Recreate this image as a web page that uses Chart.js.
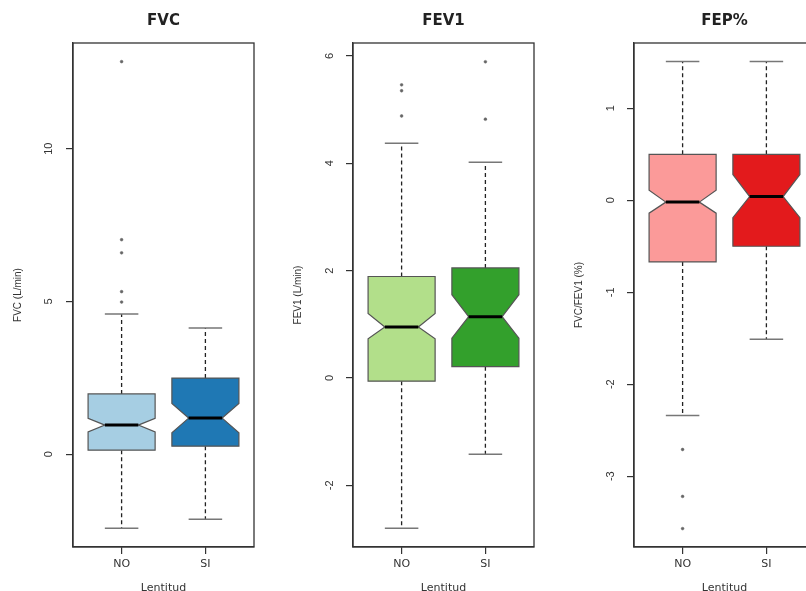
<!DOCTYPE html>
<html lang="es">
<head>
<meta charset="UTF-8">
<title>Lentitud - boxplots</title>
<style>
  html, body { margin: 0; padding: 0; background: #fff; overflow: hidden; }
  body { width: 806px; height: 591px; position: relative; }
  .panel { position: absolute; top: 0; width: 280px; height: 600px; }
</style>
<script src="https://cdn.jsdelivr.net/npm/chart.js"></script>
</head>
<body>
<div class="panel" style="left:0px"><canvas id="fvc" width="280" height="600"></canvas></div>
<div class="panel" style="left:280px"><canvas id="fev1" width="280" height="600"></canvas></div>
<div class="panel" style="left:561px"><canvas id="fep" width="280" height="600"></canvas></div>
<script>
// categorias (eje x)
const categorias = ['NO', 'SI'];

// cada caja: [bigote inf, Q1, muesca inf, mediana, muesca sup, Q3, bigote sup]
const fvcNO = [-2.43, 0.13, 0.73, 0.95, 1.17, 1.97, 4.59];
const fvcSI = [-2.13, 0.26, 0.70, 1.18, 1.66, 2.49, 4.13];
const fvcAtipNO = [12.85, 7.02, 6.59, 5.32, 4.98];
const fvcAtipSI = [];

const fev1NO = [-2.80, -0.06, 0.73, 0.95, 1.20, 1.89, 4.37];
const fev1SI = [-1.42, 0.21, 0.74, 1.14, 1.55, 2.05, 4.02];
const fev1AtipNO = [5.46, 5.35, 4.88];
const fev1AtipSI = [5.89, 4.82];

const fepNO = [-2.34, -0.67, -0.14, -0.02, 0.11, 0.50, 1.51];
const fepSI = [-1.51, -0.50, -0.19, 0.04, 0.28, 0.50, 1.51];
const fepAtipNO = [-2.71, -3.22, -3.57];
const fepAtipSI = [];

const FONT = "'Liberation Sans', Arial, sans-serif";
const FONT_ANCHA = "'DejaVu Sans', sans-serif";

// dibuja las cajas con muesca al estilo de R
const cajasPlugin = {
  id: 'cajas',
  beforeDatasetsDraw(chart, args, opts) {
    const ctx = chart.ctx;
    const x = chart.scales.x, y = chart.scales.y;
    opts.cajas.forEach((b, i) => {
      const [lo, q1, nlo, med, nhi, q3, hi] = b;
      const c = i + 1;
      const xc = x.getPixelForValue(c);
      const xl = x.getPixelForValue(c - 0.4), xr = x.getPixelForValue(c + 0.4);
      const nl = x.getPixelForValue(c - 0.2), nr = x.getPixelForValue(c + 0.2);
      ctx.save();
      // bigotes
      ctx.strokeStyle = '#222';
      ctx.lineWidth = 1.3;
      ctx.setLineDash([4, 3]);
      ctx.beginPath();
      ctx.moveTo(xc, y.getPixelForValue(q3)); ctx.lineTo(xc, y.getPixelForValue(hi));
      ctx.moveTo(xc, y.getPixelForValue(q1)); ctx.lineTo(xc, y.getPixelForValue(lo));
      ctx.stroke();
      ctx.setLineDash([]);
      ctx.strokeStyle = '#777';
      ctx.lineWidth = 1.5;
      ctx.beginPath();
      ctx.moveTo(nl, y.getPixelForValue(hi)); ctx.lineTo(nr, y.getPixelForValue(hi));
      ctx.moveTo(nl, y.getPixelForValue(lo)); ctx.lineTo(nr, y.getPixelForValue(lo));
      ctx.stroke();
      // caja con muesca
      ctx.beginPath();
      ctx.moveTo(xl, y.getPixelForValue(q1));
      ctx.lineTo(xl, y.getPixelForValue(nlo));
      ctx.lineTo(nl, y.getPixelForValue(med));
      ctx.lineTo(xl, y.getPixelForValue(nhi));
      ctx.lineTo(xl, y.getPixelForValue(q3));
      ctx.lineTo(xr, y.getPixelForValue(q3));
      ctx.lineTo(xr, y.getPixelForValue(nhi));
      ctx.lineTo(nr, y.getPixelForValue(med));
      ctx.lineTo(xr, y.getPixelForValue(nlo));
      ctx.lineTo(xr, y.getPixelForValue(q1));
      ctx.closePath();
      ctx.fillStyle = opts.colores[i];
      ctx.fill();
      ctx.strokeStyle = '#555';
      ctx.lineWidth = 1.2;
      ctx.stroke();
      // mediana
      ctx.strokeStyle = '#000';
      ctx.lineWidth = 3;
      ctx.beginPath();
      ctx.moveTo(nl, y.getPixelForValue(med)); ctx.lineTo(nr, y.getPixelForValue(med));
      ctx.stroke();
      ctx.restore();
    });
  },
  afterDraw(chart) {
    // marco completo del area de grafico
    const {ctx, chartArea: a} = chart;
    ctx.save();
    ctx.strokeStyle = '#333';
    ctx.lineWidth = 1.3;
    ctx.strokeRect(a.left, a.top, a.right - a.left, a.bottom - a.top);
    ctx.restore();
  }
};

function puntos(arr, c) {
  return arr.map(v => ({x: c, y: v}));
}

function crearPanel(id, titulo, etiquetaY, cajas, colores, atipNO, atipSI, ymin, ymax, paso) {
  new Chart(document.getElementById(id), {
    type: 'scatter',
    data: {
      datasets: [{
        data: puntos(atipNO, 1).concat(puntos(atipSI, 2)),
        pointRadius: 1.4,
        pointBackgroundColor: '#666',
        pointBorderColor: '#666',
        pointBorderWidth: 0.5
      }]
    },
    plugins: [cajasPlugin],
    options: {
      responsive: false,
      animation: false,
      layout: { padding: { left: 0, right: 26, top: 0, bottom: 0 } },
      plugins: {
        legend: { display: false },
        tooltip: { enabled: false },
        title: {
          display: true,
          text: titulo,
          fullSize: false,
          color: '#222',
          font: { family: FONT_ANCHA, size: 15, weight: 'bold' },
          padding: { top: 12, bottom: 13 }
        },
        cajas: { cajas: cajas, colores: colores }
      },
      scales: {
        x: {
          type: 'linear',
          min: 0.42,
          max: 2.58,
          afterBuildTicks: s => { s.ticks = [{value: 1}, {value: 2}]; },
          afterFit: s => { s.height = 53; },
          ticks: {
            callback: v => categorias[v - 1],
            color: '#333',
            font: { family: FONT_ANCHA, size: 11 },
            padding: 4,
            maxRotation: 0
          },
          grid: { drawOnChartArea: false, drawTicks: true, tickLength: 7, color: '#333', lineWidth: 1.2 },
          border: { color: '#333', width: 1.3 },
          title: {
            display: true,
            text: 'Lentitud',
            color: '#333',
            font: { family: FONT_ANCHA, size: 11 },
            padding: { top: 0, bottom: 5 }
          }
        },
        y: {
          min: ymin,
          max: ymax,
          afterFit: s => { s.width = 73; },
          ticks: {
            stepSize: paso,
            includeBounds: false,
            minRotation: 90,
            maxRotation: 90,
            crossAlign: 'center',
            padding: 11,
            color: '#333',
            font: { family: FONT, size: 11 }
          },
          grid: { drawOnChartArea: false, drawTicks: true, tickLength: 7, color: '#333', lineWidth: 1.2 },
          border: { color: '#333', width: 1.3 },
          title: {
            display: true,
            text: etiquetaY,
            color: '#333',
            font: { family: FONT, size: 10 },
            padding: { top: 12, bottom: 0 }
          }
        }
      }
    }
  });
}

crearPanel('fvc', 'FVC', 'FVC (L/min)', [fvcNO, fvcSI], ['#A6CEE3', '#1F78B4'],
  fvcAtipNO, fvcAtipSI, -3.04, 13.46, 5);
crearPanel('fev1', 'FEV1', 'FEV1 (L/min)', [fev1NO, fev1SI], ['#B2DF8A', '#33A02C'],
  fev1AtipNO, fev1AtipSI, -3.15, 6.24, 2);
crearPanel('fep', 'FEP%', 'FVC/FEV1 (%)', [fepNO, fepSI], ['#FB9A99', '#E31A1C'],
  fepAtipNO, fepAtipSI, -3.77, 1.71, 1);
</script>
</body>
</html>
